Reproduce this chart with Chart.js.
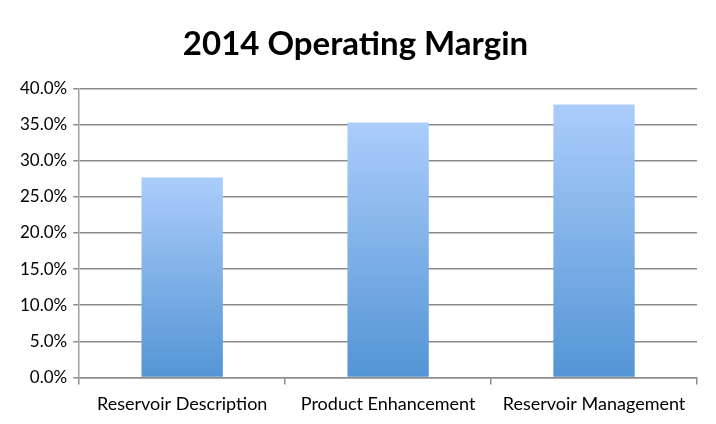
<!DOCTYPE html>
<html lang="en">
<head>
<meta charset="utf-8">
<title>2014 Operating Margin</title>
<style>
  html, body { margin: 0; padding: 0; background: #fff; }
  #wrap { width: 716px; height: 424px; }
</style>
</head>
<body>
<div id="wrap"><canvas id="myChart" width="716" height="424"></canvas></div>
<script src="https://cdn.jsdelivr.net/npm/chart.js"></script>
<script>
const categories = ['Reservoir Description', 'Product Enhancement', 'Reservoir Management'];
const margins = [27.7, 35.3, 37.8];
const yTicks = [0, 5, 10, 15, 20, 25, 30, 35, 40];

const font = '"Lato", "Open Sans", sans-serif';

// each bar gets its own gradient, light on top, darker at the base
function barFill(ctx) {
	const chart = ctx.chart;
	const y = chart.scales.y;
	if (!chart.chartArea || !y || ctx.parsed == undefined) return '#7fb0e8';
	const top = y.getPixelForValue(ctx.parsed.y);
	const bottom = y.getPixelForValue(0);
	const g = chart.ctx.createLinearGradient(0, top, 0, bottom);
	g.addColorStop(0, '#abcdfb');
	g.addColorStop(1, '#5395d5');
	return g;
}

new Chart(document.getElementById('myChart').getContext('2d'), {
	type: 'bar',
	data: {
		labels: categories,
		datasets: [{
			data: margins,
			backgroundColor: barFill,
			borderWidth: 0,
			barPercentage: 0.395,
			categoryPercentage: 1
		}]
	},
	options: {
		responsive: false,
		animation: false,
		layout: { padding: { left: 14, right: 19, top: 0, bottom: 0 } },
		plugins: {
			legend: { display: false },
			tooltip: { enabled: false },
			title: {
				display: true,
				text: '2014 Operating Margin',
				color: '#000',
				font: { family: font, size: 33, weight: 'bold' },
				padding: { top: 25, bottom: 24 }
			}
		},
		scales: {
			x: {
				grid: {
					drawOnChartArea: false,
					drawTicks: true,
					tickLength: 7,
					color: '#8c8c8c',
					lineWidth: 1.5
				},
				border: { color: '#8c8c8c', width: 1.5 },
				ticks: {
					color: '#000',
					font: { family: font, size: 18 },
					padding: 9,
					maxRotation: 0
				}
			},
			y: {
				min: 0,
				max: 40,
				afterBuildTicks: (axis) => { axis.ticks = yTicks.map(v => ({ value: v })); },
				grid: {
					color: '#8c8c8c',
					lineWidth: 1.5,
					tickLength: 6
				},
				border: { color: '#a0a0a0', width: 1.5 },
				ticks: {
					color: '#000',
					font: { family: font, size: 17 },
					padding: 6,
					callback: (v) => v.toFixed(1) + '%'
				}
			}
		}
	}
});
</script>
</body>
</html>
